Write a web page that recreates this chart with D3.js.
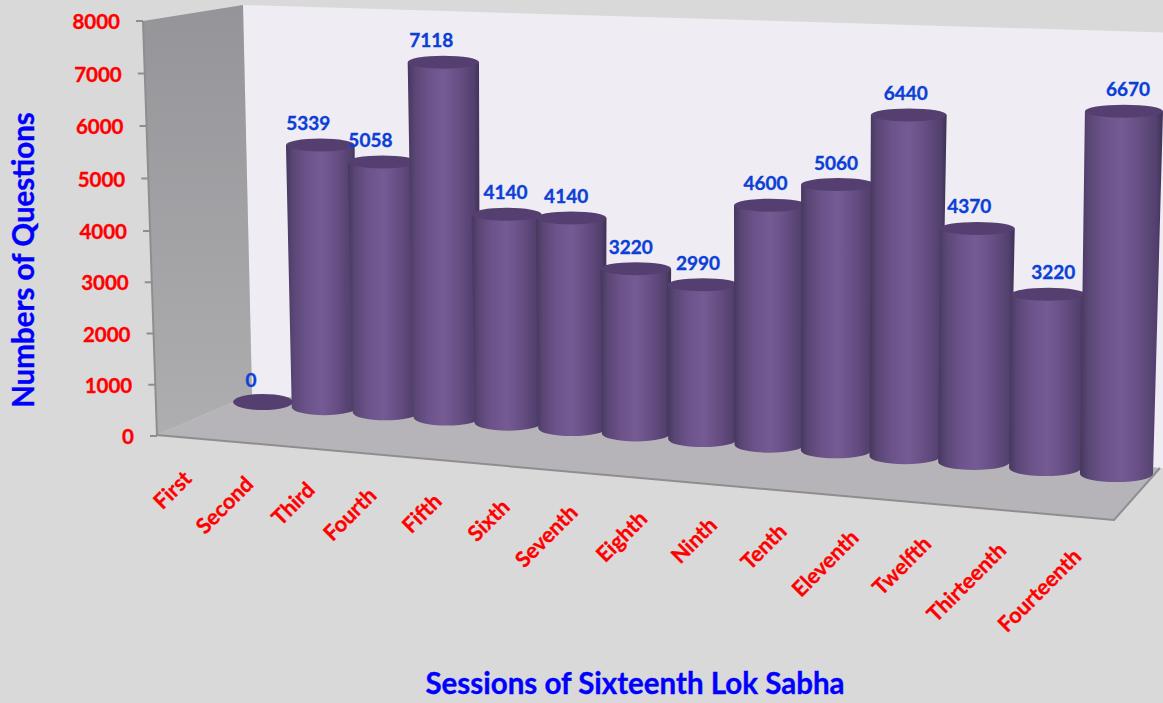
<!DOCTYPE html>
<html>
<head>
<meta charset="utf-8">
<script src="https://cdn.jsdelivr.net/npm/d3@7"></script>
<style>
  html, body { margin: 0; padding: 0; background: #d9d9d9; }
  svg { display: block; font-family: Lato, sans-serif; font-weight: 700; }
  text { stroke-width: 0.35px; paint-order: stroke; }
</style>
</head>
<body>
<div id="chart"></div>
<script>
var sessions = ['First', 'Second', 'Third', 'Fourth', 'Fifth', 'Sixth', 'Seventh', 'Eighth', 'Ninth', 'Tenth', 'Eleventh', 'Twelfth', 'Thirteenth', 'Fourteenth']
var questions = [0, 5339, 5058, 7118, 4140, 4140, 3220, 2990, 4600, 5060, 6440, 4370, 3220, 6670]
var yTicks = [0, 1000, 2000, 3000, 4000, 5000, 6000, 7000, 8000]

var width = 1163
var height = 703
var yMax = 8000
var lastIndex = sessions.length - 1

var svg = d3.select('#chart').append('svg')
  .attr('width', width)
  .attr('height', height)

var defs = svg.append('defs')

var barGrad = defs.append('linearGradient').attr('id', 'barGrad')
var barStops = [[0, '#46375e'], [0.1, '#5a4675'], [0.28, '#6b5289'], [0.5, '#755b94'], [0.72, '#664e83'], [0.92, '#52406d'], [1, '#3f3155']]
barStops.forEach(function (s) {
  barGrad.append('stop').attr('offset', s[0]).attr('stop-color', s[1])
})

var wallGrad = defs.append('linearGradient').attr('id', 'wallGrad')
  .attr('x1', 0).attr('y1', 0).attr('x2', 0).attr('y2', 1)
wallGrad.append('stop').attr('offset', 0).attr('stop-color', '#959498')
wallGrad.append('stop').attr('offset', 1).attr('stop-color', '#aeadb0')

// the three faces of the box
function face (points, fill) {
  svg.append('path')
    .attr('d', d3.line()(points) + 'Z')
    .attr('fill', fill)
}
face([[243, 5], [1180, 33], [1163, 468], [252, 394]], '#efedf3')
face([[143, 21], [243, 5], [252, 394], [157, 435]], 'url(#wallGrad)')
face([[157, 435], [252, 394], [1160, 468], [1114, 520]], '#b6b4b9')

// front edges
svg.append('path')
  .attr('d', d3.line()([[143, 21], [157, 435], [1114, 520], [1160, 468]]))
  .attr('fill', 'none')
  .attr('stroke', '#8e8e8e')
  .attr('stroke-width', 2)

// y axis sits on the slanted wall edge
var y = d3.scaleLinear()
  .domain([0, 4000, yMax])
  .range([436, 231, 21])
var wallX = d3.scaleLinear()
  .domain([0, yMax])
  .range([157, 143])

var yAxis = svg.append('g')
  .call(d3.axisLeft(y).tickValues(yTicks).tickSize(7).tickPadding(16).tickFormat(d3.format('d')))
yAxis.select('.domain').remove()
yAxis.selectAll('.tick')
  .attr('transform', function (d) { return 'translate(' + wallX(d) + ',' + y(d) + ')' })
yAxis.selectAll('.tick line')
  .attr('stroke', '#8e8e8e')
  .attr('stroke-width', 2)
yAxis.selectAll('.tick text')
  .attr('fill', '#ff0000')
  .attr('stroke', '#ff0000')
  .attr('dy', '0.4em')
  .attr('font-family', 'Lato, sans-serif')
  .attr('font-weight', 700)
  .attr('font-size', 20.5)

// perspective: bars spread out, drop and grow towards the right
var x = d3.scaleLinear()
  .domain([0, 4, 6, 9, 11, lastIndex])
  .range([263, 508, 636, 836, 974, 1116.5])
var baseY = d3.scaleLinear()
  .domain([263, 1116.5])
  .range([402, 474])
var pxPerUnit = d3.scaleLinear()
  .domain([324, 1116.5])
  .range([0.0491, 0.0544])
var radius = d3.scaleLinear()
  .domain([0, 1, lastIndex])
  .range([30, 32.5, 36.5])
var labelShift = d3.scaleLinear()
  .domain([0, 3, 4, 5, 8, 9, 10, 11, 12, 13])
  .range([-12, -12, -1, -5, -5, -2, -3, -8, 5, 4])
var catEndX = d3.scaleLinear()
  .domain([0, 3, 6, 10, lastIndex])
  .range([-70, -69, -57, -45, -34])
var catEndY = d3.scaleLinear()
  .domain([0, 6, lastIndex])
  .range([480, 514, 558])

var ryBase = 8
var ryTop = 6.5

function barHeight (d, i) {
  return d3.scaleLinear().domain([0, yMax]).range([0, yMax * pxPerUnit(x(i))])(d)
}
function topX (d, i) {
  return x(i) + (x(i) - 660) * 4.5e-5 * barHeight(d, i)
}
function topY (d, i) {
  return baseY(x(i)) - barHeight(d, i)
}
function topRadius (d, i) {
  return radius(i) + 0.007 * barHeight(d, i)
}

var bars = svg.selectAll('.bar')
  .data(questions)
  .enter().append('g')
  .attr('class', 'bar')

bars.append('path')
  .attr('fill', 'url(#barGrad)')
  .attr('d', function (d, i) {
    if (d === 0) return null
    var r = radius(i)
    var rt = topRadius(d, i)
    return 'M' + (topX(d, i) - rt) + ',' + topY(d, i) +
      'L' + (x(i) - r) + ',' + baseY(x(i)) +
      'A' + r + ',' + ryBase + ' 0 0 0 ' + (x(i) + r) + ',' + baseY(x(i)) +
      'L' + (topX(d, i) + rt) + ',' + topY(d, i) + 'Z'
  })

bars.append('ellipse')
  .attr('cx', function (d, i) { return topX(d, i) })
  .attr('cy', function (d, i) { return topY(d, i) })
  .attr('rx', function (d, i) { return topRadius(d, i) })
  .attr('ry', function (d) { return d > 0 ? ryTop : ryBase })
  .attr('fill', '#553f70')

svg.selectAll('.value')
  .data(questions)
  .enter().append('text')
  .attr('class', 'value')
  .attr('x', function (d, i) { return topX(d, i) + labelShift(i) })
  .attr('y', function (d, i) { return topY(d, i) - 15 })
  .attr('text-anchor', 'middle')
  .attr('font-size', 19)
  .attr('fill', '#0b3fd6')
  .attr('stroke', '#0b3fd6')
  .text(function (d) { return d })

svg.selectAll('.cat')
  .data(sessions)
  .enter().append('text')
  .attr('class', 'cat')
  .attr('transform', function (d, i) {
    return 'translate(' + (x(i) + catEndX(i)) + ',' + catEndY(i) + ') rotate(-45)'
  })
  .attr('text-anchor', 'end')
  .attr('font-size', 21.5)
  .attr('fill', '#ff0000')
  .attr('stroke', '#ff0000')
  .text(function (d) { return d })

svg.append('text')
  .attr('transform', 'translate(34,260) rotate(-90)')
  .attr('text-anchor', 'middle')
  .attr('font-size', 29.5)
  .attr('fill', '#0000ff')
  .attr('stroke', '#0000ff')
  .text('Numbers of Questions')

svg.append('text')
  .attr('x', 635)
  .attr('y', 694)
  .attr('text-anchor', 'middle')
  .attr('font-size', 29.5)
  .attr('fill', '#0000ff')
  .attr('stroke', '#0000ff')
  .text('Sessions of Sixteenth Lok Sabha')
</script>
</body>
</html>
